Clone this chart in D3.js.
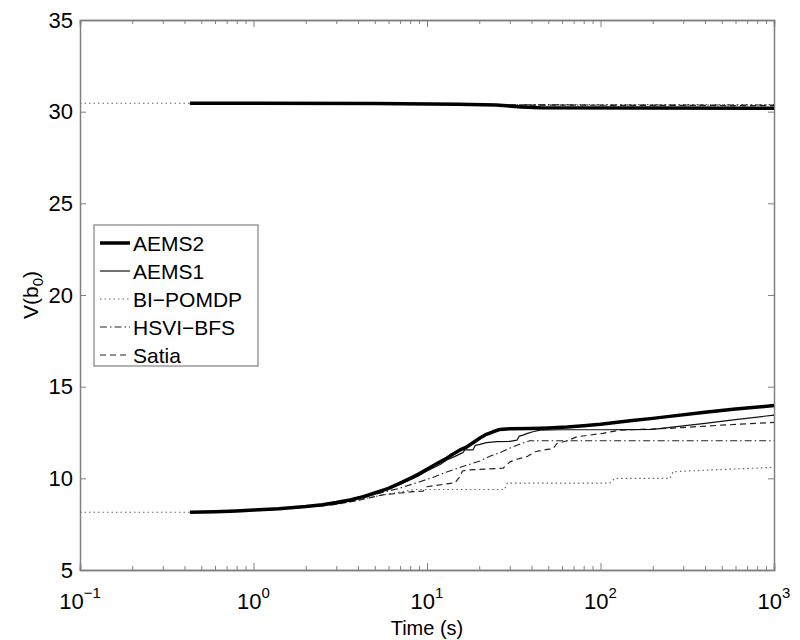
<!doctype html>
<html>
  <head>
    <meta charset="utf-8">
    <script src="https://cdn.jsdelivr.net/npm/d3@7"></script>
    <style>
    body { margin: 0; background: #fff; }
    .chart { font-family: "Liberation Sans", Arial, sans-serif; }
    .axis path, .axis line { stroke: #808080; }
    .axis path { stroke-width: 1.5; }
    .axis text { fill: #000; font-size: 22px; font-family: "Liberation Sans", Arial, sans-serif; }
    </style>
  </head>
  <body>
    <svg class="chart"></svg>
  <script>

    // values, [time (s), V(b0)]
    const names = ["AEMS2", "AEMS1", "BI\u2212POMDP", "HSVI\u2212BFS", "Satia"]

    const aems2Upper = [[0.43,30.46],[5,30.44],[15,30.41],[25,30.36],[35,30.26],[45,30.21],[1000,30.19]]
    const aems2Lower = [[0.43,8.15],[0.6,8.18],[0.8,8.22],[1,8.27],[1.4,8.34],[2,8.46],[2.5,8.56],[3,8.68],
      [3.6,8.82],[4.3,9.0],[5,9.2],[6,9.45],[7,9.74],[8,10.0],[9,10.25],[10,10.5],[11.9,10.9],[13,11.1],
      [14,11.3],[15.5,11.55],[17,11.72],[18.5,11.95],[20.2,12.2],[22,12.4],[24,12.54],[26.3,12.67],[30,12.7],
      [40,12.72],[50,12.75],[64,12.8],[80,12.87],[100,12.95],[148,13.14],[200,13.27],[250,13.38],[400,13.6],
      [600,13.78],[1000,13.97]]

    const aems1Upper = [[0.43,30.46],[15,30.41],[30,30.32],[45,30.24],[1000,30.21]]
    const aems1Lower = [[0.43,8.15],[1,8.27],[2,8.46],[3,8.68],[5,9.18],[7,9.68],[9,10.15],[10,10.4],
      [11.9,10.75],[13,11.0],[14.5,11.2],[16.1,11.4],[16.5,11.55],[18.4,11.55],[19,11.8],[20.2,11.85],
      [22,11.95],[25.3,12.0],[30,12.02],[33,12.08],[34,12.3],[35.7,12.36],[38,12.45],[40.8,12.54],
      [44.8,12.63],[60,12.65],[100,12.65],[150,12.66],[200,12.67],[252,12.78],[400,13.0],[600,13.2],[1000,13.45]]

    const biUpper = [[0.1,30.46],[0.43,30.46],[15,30.41],[30,30.38],[1000,30.38]]
    const biLower = [[0.1,8.15],[0.43,8.15],[1,8.27],[2,8.45],[3,8.58],[4,8.8],[5.58,9.1],[7,9.25],
      [8.5,9.39],[28,9.39],[29,9.74],[113,9.74],[121,10.0],[252,10.0],[262,10.36],[411,10.45],[1000,10.6]]

    const hsviUpper = [[0.43,30.46],[15,30.41],[30,30.37],[1000,30.36]]
    const hsviLower = [[0.43,8.15],[1,8.27],[2,8.45],[2.5,8.53],[3,8.6],[4,8.85],[5.15,9.15],[7,9.47],
      [9,9.8],[10.8,10.05],[13,10.35],[17,10.72],[20.2,10.95],[23,11.2],[26.3,11.4],[31.3,11.72],
      [35,11.9],[39.2,12.05],[1000,12.05]]

    const satiaUpper = [[0.43,30.46],[15,30.41],[30,30.36],[1000,30.33]]
    const satiaLower = [[0.43,8.15],[1,8.27],[2,8.45],[2.5,8.5],[3,8.58],[4,8.8],[5.58,9.1],[7,9.2],
      [8.3,9.27],[9.5,9.3],[10,9.54],[13,9.7],[14.5,9.75],[15.5,10.1],[16,10.4],[17,10.45],[27.4,10.55],
      [30.1,10.9],[33,11.04],[38,11.2],[41.9,11.45],[49.2,11.58],[53,11.6],[56.1,11.9],[64.1,12.05],
      [73.2,12.27],[103,12.45],[129,12.63],[252,12.73],[500,12.9],[1000,13.05]]

    const xMajor = [0.1, 1, 10, 100, 1000]
    const xExponents = ["\u22121", "0", "1", "2", "3"]
    const yTicks = [5, 10, 15, 20, 25, 30, 35]

    // drawing order: thin ones first, AEMS2 on top
    const series = [
      { name: names[2], parts: [biUpper, biLower],       color: "#666", width: 1.2, dash: "1.5,3" },
      { name: names[3], parts: [hsviUpper, hsviLower],   color: "#222", width: 1.1, dash: "7,3,1.5,3" },
      { name: names[4], parts: [satiaUpper, satiaLower], color: "#222", width: 1.2, dash: "6,4" },
      { name: names[1], parts: [aems1Upper, aems1Lower], color: "#111", width: 1.2, dash: null },
      { name: names[0], parts: [aems2Upper, aems2Lower], color: "#000", width: 3.5, dash: null }
    ]

    const margin = { left: 80, top: 20, right: 26, bottom: 70 },
        width = 800 - margin.left - margin.right,
        height = 640 - margin.top - margin.bottom

    const svg = d3.select(".chart")
                  .attr("width", 800)
                  .attr("height", 640)

    const chart = svg.append("g")
                     .attr("transform", "translate(" + margin.left + "," + margin.top + ")")

    const x = d3.scaleLog().domain([0.1, 1000]).range([0, width])
    const y = d3.scaleLinear().domain([5, 35]).range([height, 0])

    // minor ticks for the log axis
    let xMinor = []
    xMajor.slice(0, -1).forEach(function(p) {
      for (let k = 2; k < 10; k++) xMinor.push(p * k)
    })

    const line = d3.line()
                   .x(d => x(d[0]))
                   .y(d => y(d[1]))

    // box and ticks (inward, all four sides)
    chart.append("g").attr("class", "axis")
      .attr("transform", "translate(0," + height + ")")
      .call(d3.axisBottom(x).tickValues(xMinor).tickSize(-4).tickFormat(""))
    chart.append("g").attr("class", "axis")
      .attr("transform", "translate(0," + height + ")")
      .call(d3.axisBottom(x).tickValues(xMajor).tickSize(-7).tickFormat(""))
    chart.append("g").attr("class", "axis")
      .call(d3.axisTop(x).tickValues(xMinor).tickSize(-4).tickFormat(""))
    chart.append("g").attr("class", "axis")
      .call(d3.axisTop(x).tickValues(xMajor).tickSize(-7).tickFormat(""))

    chart.append("g").attr("class", "axis")
      .call(d3.axisLeft(y).tickValues(yTicks).tickSize(-6).tickPadding(7).tickSizeOuter(0))
    chart.append("g").attr("class", "axis")
      .attr("transform", "translate(" + width + ",0)")
      .call(d3.axisRight(y).tickValues(yTicks).tickSize(-6).tickFormat("").tickSizeOuter(0))

    // x tick labels as powers of ten
    xMajor.forEach(function(t, i) {
      let lbl = chart.append("text")
        .attr("x", x(t))
        .attr("y", height + 39)
        .attr("text-anchor", "middle")
        .style("font-size", "22px")
        .text("10")
      lbl.append("tspan")
        .attr("dy", -11)
        .style("font-size", "15px")
        .text(xExponents[i])
    })

    // series
    series.forEach(function(s) {
      s.parts.forEach(function(p) {
        chart.append("path")
          .datum(p)
          .attr("d", line)
          .attr("fill", "none")
          .attr("stroke", s.color)
          .attr("stroke-width", s.width)
          .attr("stroke-dasharray", s.dash)
          .attr("stroke-linejoin", "round")
      })
    })

    // axis titles
    svg.append("text")
       .attr("x", margin.left + width / 2)
       .attr("y", 635)
       .attr("text-anchor", "middle")
       .style("font-size", "20px")
       .text("Time (s)")

    let ylab = svg.append("text")
       .attr("transform", "translate(38,295) rotate(-90)")
       .attr("text-anchor", "middle")
       .style("font-size", "21px")
       .text("V(b")
    ylab.append("tspan").attr("dy", 5).style("font-size", "15px").text("0")
    ylab.append("tspan").attr("dy", -5).text(")")

    // legend
    const legendOrder = [4, 3, 0, 1, 2].map(i => series[i])
    const legend = svg.append("g")
                      .attr("transform", "translate(94,225)")

    legend.append("rect")
      .attr("width", 164)
      .attr("height", 141)
      .attr("fill", "#fff")
      .attr("stroke", "#808080")
      .attr("stroke-width", 1.2)

    legendOrder.forEach(function(s, i) {
      let cy = 18 + i * 28
      legend.append("line")
        .attr("x1", 6).attr("x2", 36)
        .attr("y1", cy).attr("y2", cy)
        .attr("stroke", s.color)
        .attr("stroke-width", s.width)
        .attr("stroke-dasharray", s.dash)
      legend.append("text")
        .attr("x", 39)
        .attr("y", cy)
        .attr("dy", "0.36em")
        .style("font-size", "21px")
        .text(s.name)
    })

  </script>
  </body>
</html>
